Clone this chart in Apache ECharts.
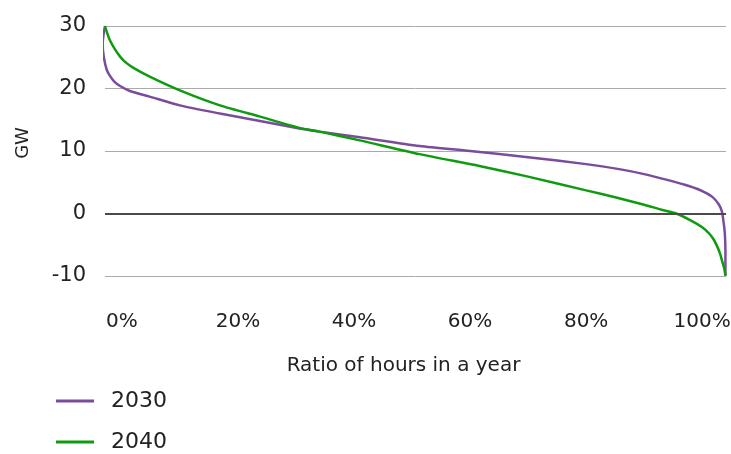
<!DOCTYPE html>
<html>
<head>
<meta charset="utf-8">
<script src="https://cdn.jsdelivr.net/npm/echarts@6/dist/echarts.min.js"></script>
<style>html,body{margin:0;padding:0;background:#fff;}#chart{width:731px;height:454px;}</style>
</head>
<body>
<div id="chart"></div>
<script>
// Ratio of hours in a year (%) and GW
const seriesNames = ['2030', '2040'];
const xTickLabels = [0, 20, 40, 60, 80, 100];
const yTicks = [-10, 0, 10, 20, 30];

const hours2030 = [-2.9, -3.2, -3.3, -3.1, -2.6, -2.1, -1.3, -0.3, 1.4, 4.8, 10, 16.9, 23.8, 30.6, 34.1, 41, 51.3, 60, 70, 80, 85.7, 90, 94.3, 97, 99.5, 101.7, 102.9, 103.4, 103.7, 103.9, 104, 104];
const gw2030 =    [30, 28.3, 27, 25, 23, 22.1, 21.1, 20.4, 19.6, 18.7, 17.3, 16.0, 14.8, 13.6, 13.1, 12.2, 10.8, 10.0, 9.0, 7.9, 7.1, 6.3, 5.3, 4.6, 3.8, 2.7, 1.4, 0.3, -1.5, -3.2, -6, -10];

const hours2040 = [-2.9, -2.5, -2.1, -1.2, -0.3, 0.5, 2, 4.8, 10, 16.9, 23.8, 30.6, 34.1, 41, 51.3, 61.6, 70, 80, 85, 90, 93, 95.5, 98, 100, 101.2, 102, 102.6, 103.1, 103.4, 103.8, 104];
const gw2040 =    [30, 28.8, 27.8, 26.3, 25.1, 24.3, 23.3, 21.9, 19.7, 17.3, 15.5, 13.7, 13.1, 11.7, 9.5, 7.6, 5.9, 3.7, 2.6, 1.4, 0.6, 0, -1.1, -2.2, -3.2, -4.2, -5.3, -6.5, -7.5, -8.8, -9.9];

const zip = (a, b) => a.map((v, i) => [v, b[i]]);
const FONT = 'DejaVu Sans';
const TXT = '#222';

const chart = echarts.init(document.getElementById('chart'), null, {renderer: 'canvas'});
chart.setOption({
  animation: false,
  backgroundColor: '#fff',
  textStyle: {fontFamily: FONT, color: TXT},
  grid: {left: 105, right: 5, top: 26, bottom: 178, containLabel: false, outerBoundsMode: 'none'},
  legend: {
    orient: 'vertical', left: 56, top: 389, padding: 0,
    itemWidth: 38, itemHeight: 3, itemGap: 17, icon: 'rect',
    data: seriesNames,
    textStyle: {fontFamily: FONT, fontSize: 22, color: TXT, lineHeight: 24, padding: [0, 0, 0, 12]}
  },
  xAxis: {
    type: 'value', min: -2.9, max: 104.1,
    name: 'Ratio of hours in a year', nameLocation: 'middle', nameGap: 80,
    nameTextStyle: {fontFamily: FONT, fontSize: 20, color: TXT, padding: [0, 24, 0, 0]},
    axisLine: {show: false}, axisTick: {show: false}, splitLine: {show: false},
    axisLabel: {customValues: xTickLabels, formatter: '{value}%', margin: 36, fontFamily: FONT, fontSize: 20, color: TXT}
  },
  yAxis: {
    type: 'value', min: -10, max: 30, interval: 10,
    name: 'GW', nameLocation: 'middle', nameGap: 73,
    nameTextStyle: {fontFamily: FONT, fontSize: 18, color: TXT, padding: [0, 0, 0, 16]},
    axisLine: {show: false}, axisTick: {show: false},
    splitLine: {lineStyle: {color: '#aaaaaa', width: 1}},
    axisLabel: {margin: 19, fontFamily: FONT, fontSize: 21, color: TXT}
  },
  series: [
    {
      name: seriesNames[0], type: 'line', data: zip(hours2030, gw2030),
      showSymbol: false, smooth: 0.25, z: 3,
      lineStyle: {color: '#7b4c9c', width: 2.5}, itemStyle: {color: '#7b4c9c'},
      markLine: {
        silent: true, symbol: 'none', label: {show: false},
        lineStyle: {color: '#4a4a4a', width: 2, type: 'solid'},
        data: [{yAxis: 0}]
      }
    },
    {
      name: seriesNames[1], type: 'line', data: zip(hours2040, gw2040),
      showSymbol: false, smooth: 0.25, z: 3,
      lineStyle: {color: '#0f9b0f', width: 2.5}, itemStyle: {color: '#0f9b0f'}
    }
  ]
});
</script>
</body>
</html>
